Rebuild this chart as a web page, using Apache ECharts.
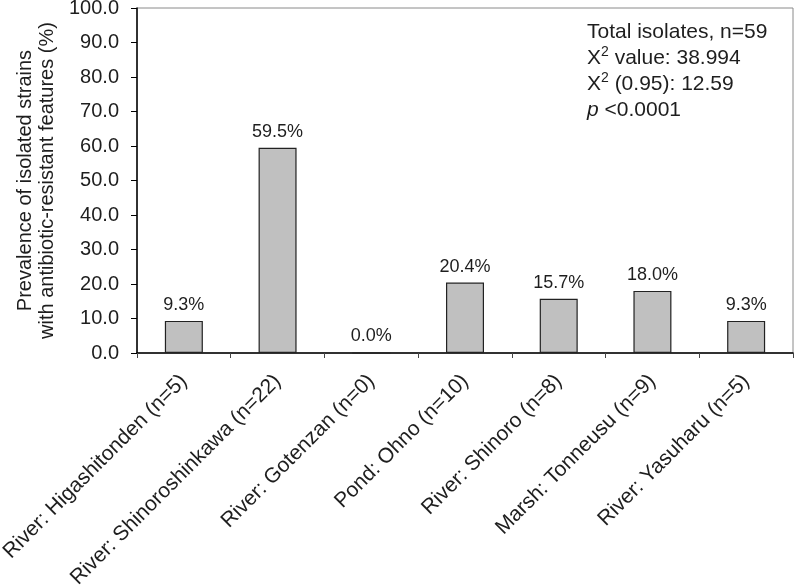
<!DOCTYPE html>
<html>
<head>
<meta charset="utf-8">
<script src="https://cdn.jsdelivr.net/npm/echarts@6/dist/echarts.min.js"></script>
<style>
  html, body { margin: 0; padding: 0; background: #fff; }
  #chart { width: 796px; height: 588px; }
</style>
</head>
<body>
<div id="chart"></div>
<script>
// data
const sites = ['River: Higashitonden (n=5)', 'River: Shinoroshinkawa (n=22)', 'River: Gotenzan (n=0)',
  'Pond: Ohno (n=10)', 'River: Shinoro (n=8)', 'Marsh: Tonneusu (n=9)', 'River: Yasuharu (n=5)'];
const prevalence = [9.3, 59.5, 0.0, 20.4, 15.7, 18.0, 9.3];
const statLines = ['Total isolates, n=59', 'value: 38.994', '(0.95): 12.59', '<0.0001'];

const FONT = '"Liberation Sans", Arial, Helvetica, sans-serif';
const TXT = '#1e1e1e';

var myChart = echarts.init(document.getElementById('chart'));
var option = {
  animation: false,
  backgroundColor: '#fff',
  textStyle: { fontFamily: FONT },
  grid: {
    left: 137, right: 3, top: 8, bottom: 235,
    outerBoundsMode: 'none',
    containLabel: false,
    show: true, borderColor: '#8a8a8a', borderWidth: 1
  },
  xAxis: {
    type: 'category',
    data: sites,
    axisLine: { lineStyle: { color: '#000', width: 1.5 } },
    axisTick: { show: true, length: 5, lineStyle: { color: '#444' } },
    axisLabel: {
      interval: 0, rotate: 45, margin: 25,
      fontSize: 21, color: TXT, fontFamily: FONT
    }
  },
  yAxis: {
    type: 'value',
    min: 0, max: 100, interval: 10,
    name: 'Prevalence of isolated strains\nwith antibiotic-resistant features (%)',
    nameLocation: 'middle',
    nameRotate: 90,
    nameGap: 74,
    nameTextStyle: { fontSize: 20, lineHeight: 22, color: TXT, fontFamily: FONT },
    splitLine: { show: false },
    axisLine: { show: true, lineStyle: { color: '#000', width: 1.5 } },
    axisTick: { show: true, length: 6, lineStyle: { color: '#000' } },
    axisLabel: {
      margin: 18, fontSize: 20, color: TXT, fontFamily: FONT,
      formatter: function (v) { return v.toFixed(1); }
    }
  },
  series: [{
    type: 'bar',
    data: prevalence,
    barWidth: 38,
    itemStyle: { color: '#c0c0c0', borderColor: '#222', borderWidth: 1.2 },
    label: {
      show: true, position: 'top', distance: 7,
      fontSize: 18, color: TXT, fontFamily: FONT,
      formatter: function (p) { return p.value.toFixed(1) + '%'; }
    }
  }],
  graphic: [{
    type: 'text',
    left: 587, top: 22,
    style: {
      text: '{n|' + statLines[0] + '}\n' +
            '{n|X}{s|2}{n| ' + statLines[1] + '}\n' +
            '{n|X}{s|2}{n| ' + statLines[2] + '}\n' +
            '{i|p}{n| ' + statLines[3] + '}',
      fontFamily: FONT,
      rich: {
        n: { fontSize: 21, lineHeight: 26, fill: TXT, fontFamily: FONT },
        s: { fontSize: 14, lineHeight: 16, verticalAlign: 'top', fill: TXT, fontFamily: FONT },
        i: { fontSize: 21, lineHeight: 26, fontStyle: 'italic', fill: TXT, fontFamily: FONT }
      }
    }
  }]
};
option && myChart.setOption(option);
</script>
</body>
</html>
